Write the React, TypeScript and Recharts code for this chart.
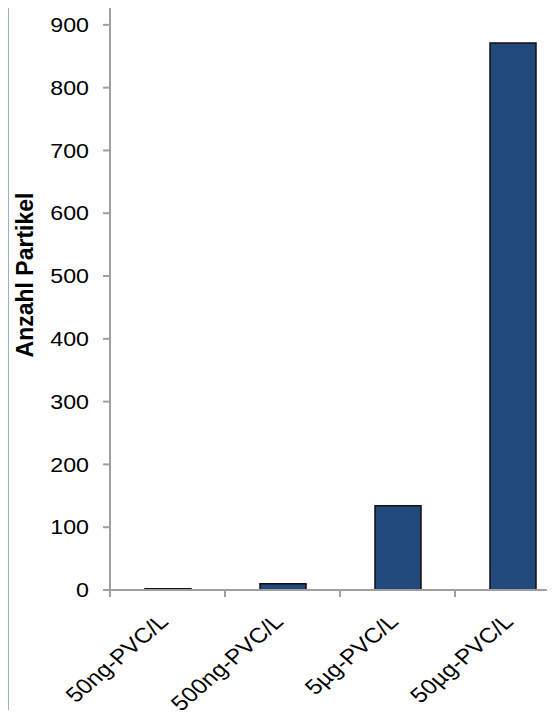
import React from 'react';
import { BarChart, Bar, XAxis, YAxis, Customized } from 'recharts';

const categories = ['50ng-PVC/L', '500ng-PVC/L', '5µg-PVC/L', '50µg-PVC/L'];
const values = [2, 10, 134, 871];
const yTicks = [0, 100, 200, 300, 400, 500, 600, 700, 800, 900];
const yLabel = 'Anzahl Partikel';

const data = categories.map((name, i) => ({ name, value: values[i] }));

const FONT = '"Liberation Sans", Arial, sans-serif';
const AXIS = '#a0a0a0';
const FRAME = '#2b6581';
const STRETCH = 1.16;

const CatTick = (props: any) => {
  const { x, y, payload } = props;
  const off = payload && payload.offset ? payload.offset : 0;
  const tx = x + 2;
  const ty = y + 33;
  return (
    <g>
      <line x1={x - off} x2={x - off} y1={y} y2={y + 7} stroke={AXIS} strokeWidth={2} />
      <text
        x={0}
        y={0}
        transform={`translate(${tx} ${ty}) scale(${STRETCH} 1) rotate(-45)`}
        textAnchor="end"
        fontSize={21}
        fontFamily={FONT}
        fill="#000"
      >
        {payload.value}
      </text>
    </g>
  );
};

const NumTick = (props: any) => {
  const { x, y, payload } = props;
  return (
    <text
      x={0}
      y={0}
      dy="0.355em"
      transform={`translate(${x} ${y}) scale(${STRETCH} 1)`}
      textAnchor="end"
      fontSize={20}
      fontFamily={FONT}
      fill="#000"
    >
      {payload.value}
    </text>
  );
};

const YLabel = (props: any) => {
  const vb = props.viewBox || { x: 0, y: 6, width: 110, height: 584 };
  const cx = vb.x + 33;
  const cy = vb.y + vb.height / 2 - 23;
  return (
    <text
      x={cx}
      y={cy}
      transform={`rotate(-90 ${cx} ${cy})`}
      textAnchor="middle"
      fontSize={23}
      fontWeight="bold"
      fontFamily={FONT}
      fill="#000"
    >
      {yLabel}
    </text>
  );
};

const Frame = () => (
  <g>
    <rect x={6} y={4.5} width={620} height={3} fill={FRAME} />
    <rect x={6} y={4.5} width={2.5} height={720} fill={FRAME} />
  </g>
);

export default function App() {
  return (
    <div style={{ position: 'relative', width: 555, height: 718, overflow: 'hidden', margin: -8, background: '#fff' }}>
      <BarChart width={600} height={718} data={data} margin={{ top: 6, right: 30, left: 0, bottom: 0 }}>
        <XAxis
          dataKey="name"
          height={128}
          interval={0}
          tickSize={0}
          tickMargin={0}
          tickLine={false}
          axisLine={{ stroke: AXIS, strokeWidth: 2 }}
          tick={<CatTick />}
        />
        <YAxis
          width={110}
          domain={[0, 930]}
          ticks={yTicks}
          interval={0}
          allowDataOverflow
          tickSize={7}
          tickMargin={14}
          axisLine={{ stroke: AXIS, strokeWidth: 2 }}
          tickLine={{ stroke: AXIS, strokeWidth: 2 }}
          tick={<NumTick />}
          label={<YLabel />}
        />
        <Bar dataKey="value" fill="#21497c" stroke="#111" strokeWidth={1.5} barSize={46} isAnimationActive={false} />
        <Customized component={Frame} />
      </BarChart>
    </div>
  );
}
